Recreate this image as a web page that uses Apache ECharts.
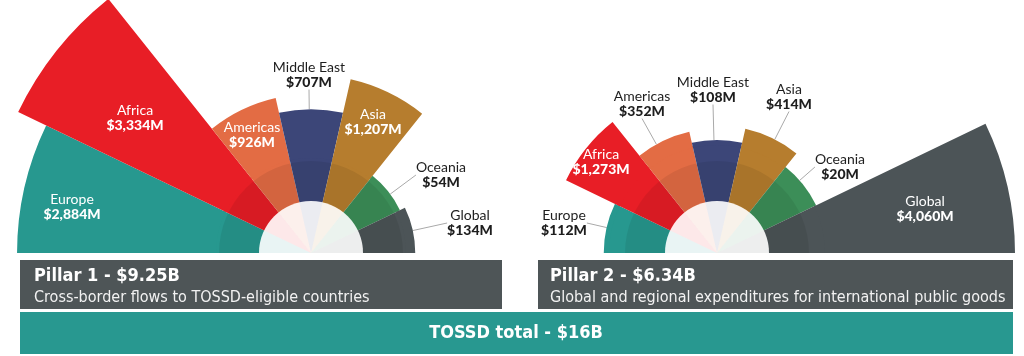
<!DOCTYPE html>
<html><head><meta charset="utf-8">
<script src="https://cdn.jsdelivr.net/npm/echarts@6/dist/echarts.min.js"></script>
<style>html,body{margin:0;padding:0;background:#fff}#c{width:1024px;height:356px}</style>
</head><body><div id="c"></div>
<script>
// ---- data ----
const categories = ['Europe', 'Africa', 'Americas', 'Middle East', 'Asia', 'Oceania', 'Global'];
const pillar1Values = [2884, 3334, 926, 707, 1207, 54, 134];   // $M
const pillar2Values = [112, 1273, 352, 108, 414, 20, 4060];    // $M
const pillar1Subtitle = 'Cross-border flows to TOSSD-eligible countries';
const pillar2Subtitle = 'Global and regional expenditures for international public goods';

// ---- styles ----
const colors = {
  'Europe': '#27988f', 'Africa': '#e81e26', 'Americas': '#e36c44', 'Middle East': '#3c4678',
  'Asia': '#b67d2e', 'Oceania': '#3c8e58', 'Global': '#4c5457'
};
const layout1 = { center: [311, 253], rose: [95, 325] };
const layout2 = { center: [717, 253], rose: [108, 298] };
// label placement: inside / outside and label anchor
const labels1 = {
  'Europe': ['in', 72, 207], 'Africa': ['in', 135, 118], 'Americas': ['in', 252, 135],
  'Middle East': ['out', 309, 75], 'Asia': ['in', 373, 122], 'Oceania': ['out', 441, 175], 'Global': ['out', 470, 223]
};
const labels2 = {
  'Europe': ['out', 564, 223], 'Africa': ['in', 601, 162], 'Americas': ['out', 642, 104],
  'Middle East': ['out', 713, 90], 'Asia': ['out', 789, 97], 'Oceania': ['out', 840, 167], 'Global': ['in', 925, 209]
};
const LABEL_FONT = 'Lato, "Noto Sans", sans-serif';
const NARROW = '"Liberation Sans Narrow", "DejaVu Sans Condensed", sans-serif';

function rich(color) {
  return {
    n: { color: color, fontFamily: LABEL_FONT, fontSize: 14, lineHeight: 15 },
    v: { color: color, fontFamily: LABEL_FONT, fontSize: 14, fontWeight: 900, lineHeight: 15 }
  };
}
const fmt = v => '$' + v.toLocaleString('en-US') + 'M';

function build(idx, values, lay, lab) {
  const base = { type: 'pie', center: lay.center, startAngle: 180, endAngle: 0, clockwise: true,
                 silent: true, animation: false, label: { show: false }, labelLine: { show: false } };
  const filler = Object.assign({}, base, {
    radius: [0, lay.rose[0] + 2], z: 1,
    data: categories.map(c => ({ name: c, value: 1, itemStyle: { color: colors[c], borderWidth: 0 } }))
  });
  const bars = {
    type: 'bar', coordinateSystem: 'polar', polarIndex: idx, barCategoryGap: '0%', z: 2,
    silent: true, animation: false,
    label: { show: true, position: 'middle', rotate: 0, formatter: p => '{n|' + p.name + '}\n{v|' + fmt(p.value) + '}' },
    labelLine: { show: false, lineStyle: { color: '#a9a9a9', width: 1 } },
    labelLayout: p => {
      const a = lab[categories[p.dataIndex]];
      return { x: a[1], y: a[2], rotate: 0, align: 'center', verticalAlign: 'middle' };
    },
    data: categories.map((c, i) => {
      const inside = lab[c][0] === 'in';
      return {
        name: c, value: values[i], itemStyle: { color: colors[c], borderWidth: 0 },
        label: { align: 'center', rotate: 0, rich: rich(inside ? '#ffffff' : '#1e1e1e') },
        labelLine: { show: !inside, lineStyle: { color: '#a9a9a9', width: 1 } }
      };
    })
  };
  const ring = Object.assign({}, base, {
    radius: [52, 92], z: 3,
    data: [{ value: 1, itemStyle: { color: 'rgba(0,0,0,0.07)', borderWidth: 0 } }]
  });
  const white = Object.assign({}, base, {
    radius: [0, 52], z: 4,
    data: [{ value: 1, itemStyle: { color: '#ffffff', borderWidth: 0 } }]
  });
  const pastel = Object.assign({}, base, {
    radius: [0, 52], z: 5,
    data: categories.map(c => ({ name: c, value: 1, itemStyle: { color: colors[c], opacity: 0.1, borderWidth: 0 } }))
  });
  return [filler, bars, ring, white, pastel];
}

const sum1 = pillar1Values.reduce((a, b) => a + b, 0);
const sum2 = pillar2Values.reduce((a, b) => a + b, 0);
const title1 = 'Pillar 1 - $' + (sum1 / 1000).toFixed(2) + 'B';
const title2 = 'Pillar 2 - $' + (sum2 / 1000).toFixed(2) + 'B';
const titleTotal = 'TOSSD total - $' + Math.round((sum1 + sum2) / 1000) + 'B';

const hidden = { axisLine: { show: false }, axisTick: { show: false }, axisLabel: { show: false }, splitLine: { show: false } };
const chart = echarts.init(document.getElementById('c'), null, { renderer: 'canvas' });
chart.setOption({
  animation: false,
  polar: [
    { center: layout1.center, radius: layout1.rose },
    { center: layout2.center, radius: layout2.rose }
  ],
  angleAxis: [0, 1].map(i => Object.assign({ polarIndex: i, type: 'category', data: categories,
    startAngle: 180, endAngle: 0, clockwise: true, boundaryGap: true }, hidden)),
  radiusAxis: [
    Object.assign({ polarIndex: 0, type: 'value', min: 0, max: Math.max(...pillar1Values) }, hidden),
    Object.assign({ polarIndex: 1, type: 'value', min: 0, max: Math.max(...pillar2Values) }, hidden)
  ],
  series: [].concat(build(0, pillar1Values, layout1, labels1), build(1, pillar2Values, layout2, labels2)),
  graphic: [
    { type: 'rect', shape: { x: 20, y: 260, width: 482, height: 49 }, style: { fill: '#4e5557' } },
    { type: 'rect', shape: { x: 538, y: 260, width: 475, height: 49 }, style: { fill: '#4e5557' } },
    { type: 'rect', shape: { x: 20, y: 312, width: 993, height: 42 }, style: { fill: '#289890' } },
    { type: 'text', x: 34, y: 276, style: { text: title1, fill: '#fff', fontFamily: NARROW, fontWeight: 'bold', fontSize: 18, verticalAlign: 'middle' } },
    { type: 'text', x: 34, y: 298, style: { text: pillar1Subtitle, fill: '#f2f2f2', fontFamily: NARROW, fontSize: 16, verticalAlign: 'middle' } },
    { type: 'text', x: 550, y: 276, style: { text: title2, fill: '#fff', fontFamily: NARROW, fontWeight: 'bold', fontSize: 18, verticalAlign: 'middle' } },
    { type: 'text', x: 550, y: 298, style: { text: pillar2Subtitle, fill: '#f2f2f2', fontFamily: NARROW, fontSize: 16, verticalAlign: 'middle' } },
    { type: 'text', x: 516, y: 333, style: { text: titleTotal, fill: '#fff', fontFamily: NARROW, fontWeight: 'bold', fontSize: 18, align: 'center', verticalAlign: 'middle' } }
  ]
});
</script></body></html>
